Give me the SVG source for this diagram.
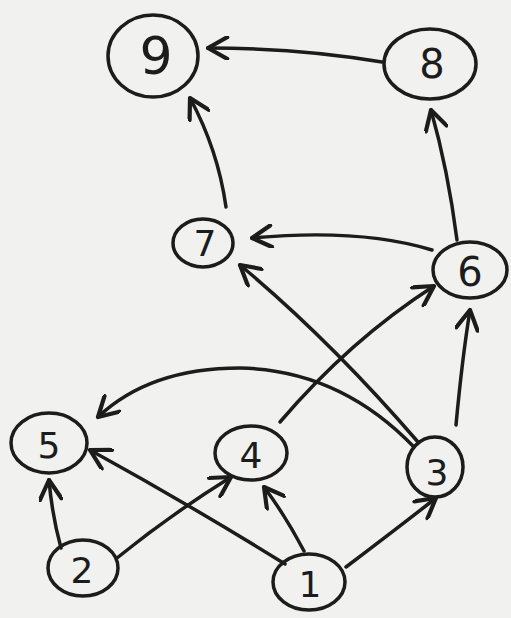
<svg xmlns="http://www.w3.org/2000/svg" width="511" height="618" viewBox="0 0 511 618">
<style>
.n ellipse{fill:none;stroke:#1c1c1c;stroke-width:3.5}
.n text{font-family:"DejaVu Sans",sans-serif;fill:#1c1c1c;text-anchor:middle;dominant-baseline:central}
.e path{fill:none;stroke:#1c1c1c;stroke-width:3.5;stroke-linecap:round;marker-end:url(#ah)}
</style>
<defs>
<marker id="ah" markerUnits="userSpaceOnUse" markerWidth="24" markerHeight="24" refX="18" refY="10" viewBox="0 0 20 20" orient="auto">
<path d="M2,1 L18,10 L2,19" fill="none" stroke="#1c1c1c" stroke-width="3.5" stroke-linecap="round" stroke-linejoin="round"/>
</marker>
</defs>
<rect width="511" height="618" fill="#f1f1ef"/>
<g class="e">
<path d="M382,62 Q300,48 208,48"/>
<path d="M226,207 Q218,150 190,98"/>
<path d="M457,240 Q448,170 431,110"/>
<path d="M432,250 Q360,228 252,238"/>
<path d="M418,442 Q330,340 240,265"/>
<path d="M280,422 Q350,340 434,286"/>
<path d="M456,425 Q462,360 470,310"/>
<path d="M414,447 Q340,370 240,368 Q150,368 98,417"/>
<path d="M285,564 Q190,505 90,450"/>
<path d="M304,551 Q285,515 264,487"/>
<path d="M346,567 Q395,530 436,498"/>
<path d="M61,548 Q52,515 49,480"/>
<path d="M117,558 Q170,515 231,477"/>
</g>
<g id="n9" class="n"><ellipse cx="153" cy="56" rx="45" ry="41"/><text x="156" y="56" font-size="52">9</text></g>
<g id="n8" class="n"><ellipse cx="430" cy="64" rx="46" ry="35"/><text x="432" y="64" font-size="40">8</text></g>
<g id="n7" class="n"><ellipse cx="203" cy="243" rx="30" ry="24"/><text x="205" y="243" font-size="36">7</text></g>
<g id="n6" class="n"><ellipse cx="470" cy="270" rx="37" ry="28"/><text x="470" y="272" font-size="40">6</text></g>
<g id="n5" class="n"><ellipse cx="49" cy="443" rx="38" ry="30"/><text x="49" y="445" font-size="36">5</text></g>
<g id="n4" class="n"><ellipse cx="251" cy="453" rx="36" ry="27"/><text x="251" y="455" font-size="36">4</text></g>
<g id="n3" class="n"><ellipse cx="435" cy="467" rx="28" ry="30"/><text x="437" y="472" font-size="36">3</text></g>
<g id="n2" class="n"><ellipse cx="83" cy="568" rx="35" ry="28"/><text x="82" y="570" font-size="36">2</text></g>
<g id="n1" class="n"><ellipse cx="309" cy="582" rx="36" ry="28"/><text x="310" y="584" font-size="36">1</text></g>
</svg>
